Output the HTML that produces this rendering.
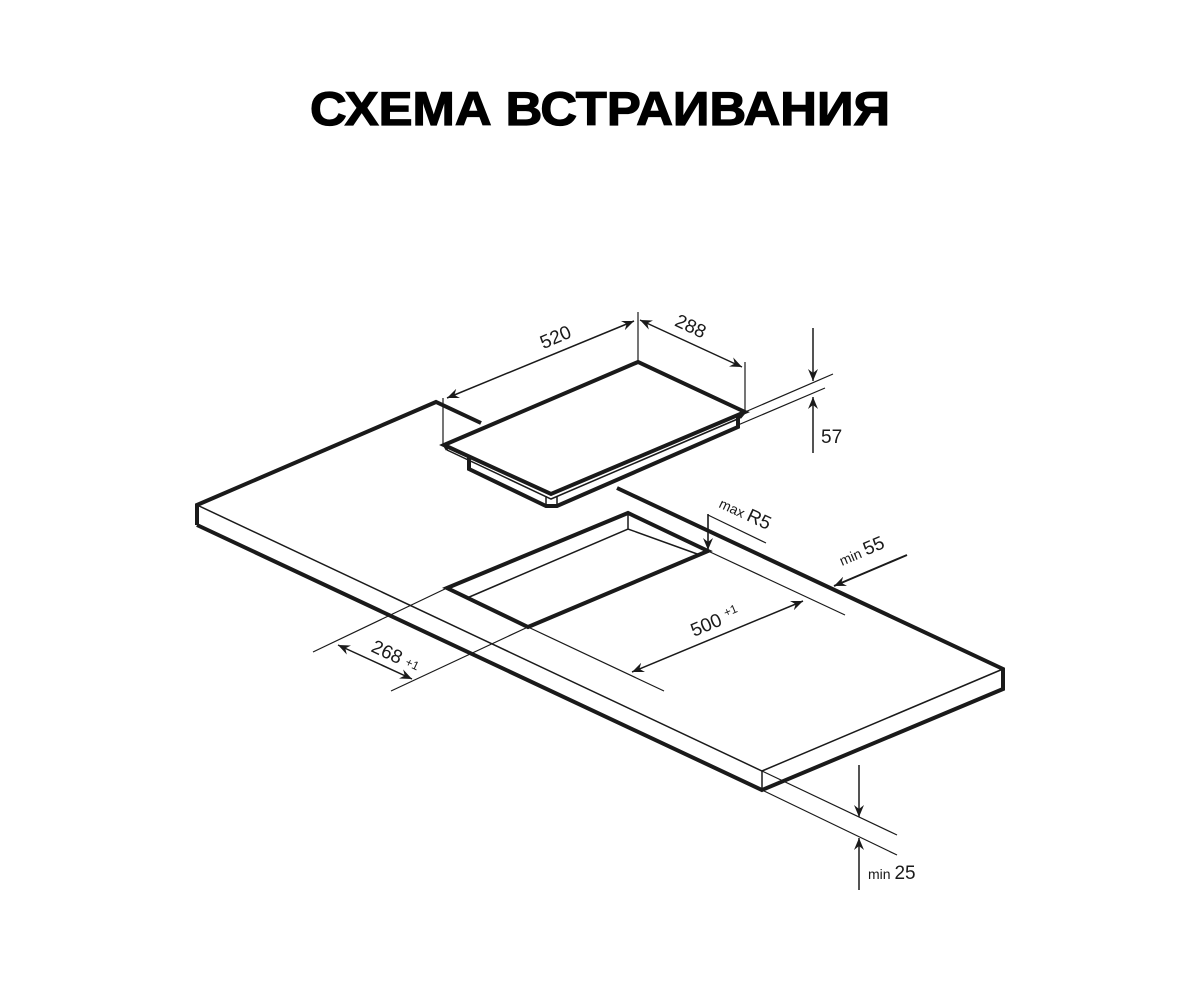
<!DOCTYPE html>
<html><head><meta charset="utf-8">
<style>
html,body{margin:0;padding:0;background:#fff;}
svg{display:block;}
text{font-family:"Liberation Sans",sans-serif;fill:#1a1a1a;}
</style></head>
<body>
<svg width="1200" height="982" viewBox="0 0 1200 982" xmlns="http://www.w3.org/2000/svg">
<defs>
<marker id="a" viewBox="0 0 12 10" refX="12" refY="5" markerWidth="12" markerHeight="10" markerUnits="userSpaceOnUse" orient="auto-start-reverse">
<path d="M0,0 L12,5 L0,10 L4,5 Z" fill="#1a1a1a"/>
</marker>
</defs>
<text x="600" y="125" text-anchor="middle" font-size="47" font-weight="bold" textLength="580" lengthAdjust="spacingAndGlyphs" style="fill:#000;stroke:#000;stroke-width:1.2">СХЕМА ВСТРАИВАНИЯ</text>

<g fill="none" stroke="#1a1a1a" stroke-linejoin="miter" stroke-linecap="butt">
<path d="M197,525 L197,505 L436,402 L481,423" stroke-width="4"/>
<path d="M617,488 L1003,669 L1003,689 L762,790 L197,525" stroke-width="4"/>
<path d="M762,771 L762,790" stroke-width="1.5"/>
<path d="M197,505 L762,771 L1003,669" stroke-width="1.5"/>
<path d="M447,588 L628,513 L708,551 L528,627 Z" stroke-width="4"/>
<path d="M467,598 L628,529 L700,555 M628,513 L628,529" stroke-width="1.5"/>
<path d="M444,445 L638,362 L745,412 L551,494 Z" stroke-width="4"/>
<path d="M447,450 L551,499 L740,418" stroke-width="1.5"/>
<path d="M444,445 L447,450 M745,412 L740,418" stroke-width="2.5"/>
<path d="M469,457 L469,469 L546,506 L557,506 L738,427 L738,415" stroke-width="4"/>
<path d="M546,496 L546,506 M557,496 L557,506" stroke-width="1.5"/>

<g stroke-width="1.2">
<path d="M443,398 L443,445 M638,312 L638,362 M745,362 L745,412"/>
<path d="M745,412 L833,374 M738,425 L825,388"/>
<path d="M708,514 L708,549 M708,515 L766,543"/>
<path d="M708,551 L845,615 M528,627 L664,691"/>
<path d="M447,588 L313,652 M528,627 L391,691"/>
<path d="M762,771 L897,835 M762,790 L897,855"/>
</g>
<g stroke-width="1.5">
<path d="M447,398 L634,321" marker-start="url(#a)" marker-end="url(#a)"/>
<path d="M640,320 L742,367" marker-start="url(#a)" marker-end="url(#a)"/>
<path d="M813,328 L813,381" marker-end="url(#a)"/>
<path d="M813,453 L813,397" marker-end="url(#a)"/>
<path d="M708,514 L708,550" marker-end="url(#a)"/>
<path d="M907,555 L834,586" stroke-width="2" marker-end="url(#a)"/>
<path d="M632,672 L803,601" marker-start="url(#a)" marker-end="url(#a)"/>
<path d="M338,645 L412,679" marker-start="url(#a)" marker-end="url(#a)"/>
<path d="M859,765 L859,817" marker-end="url(#a)"/>
<path d="M859,890 L859,838" marker-end="url(#a)"/>
</g>
</g>

<text transform="translate(558,343) rotate(-23)" font-size="19" text-anchor="middle">520</text>
<text transform="translate(688,332) rotate(25)" font-size="19" text-anchor="middle">288</text>
<text x="821" y="443" font-size="19">57</text>
<text transform="translate(718,507) rotate(25)" font-size="14">max <tspan font-size="19">R5</tspan></text>
<text transform="translate(842,566) rotate(-23)" font-size="14">min <tspan font-size="19">55</tspan></text>
<text transform="translate(694,637) rotate(-23)" font-size="19">500 <tspan font-size="12" dy="-6">+1</tspan></text>
<text transform="translate(370,651) rotate(25)" font-size="19">268 <tspan font-size="12" dy="-2">+1</tspan></text>
<text x="868" y="879" font-size="14">min <tspan font-size="19">25</tspan></text>
</svg>
</body></html>
